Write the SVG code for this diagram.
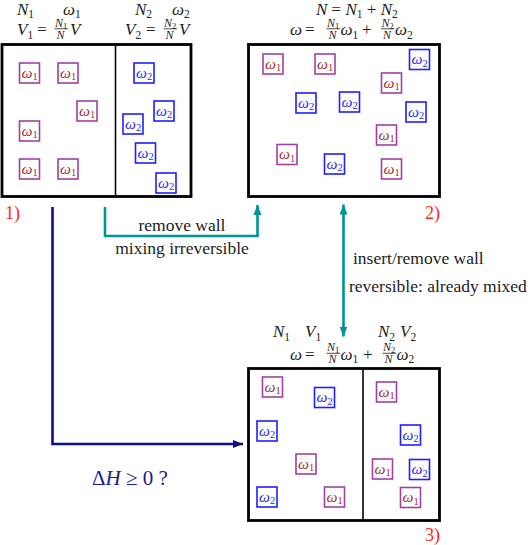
<svg xmlns="http://www.w3.org/2000/svg" width="532" height="545" viewBox="0 0 532 545">
<style>
.m{font-family:"Liberation Serif",serif;fill:#222}
.i{font-style:italic}
.b{font-size:17px}
.s{font-size:12px}
.f{font-size:11.5px}
.fs{font-size:8.5px}
.fl{stroke:#222;stroke-width:0.8}
.box{fill:none;stroke:#000;stroke-width:2.8}
.wall{stroke:#000;stroke-width:1.6}
.p1{fill:#fff;stroke:#a040a0;stroke-width:1.6}
.p2{fill:#fff;stroke:#1f1fff;stroke-width:1.6}
.t1{font-family:"Liberation Serif",serif;font-size:15.5px;fill:#a33030}
.t2{font-family:"Liberation Serif",serif;font-size:15.5px;fill:#2a2af5}
.w{font-style:italic}
.ps{font-size:10.5px}
.red{font-family:"Liberation Serif",serif;font-size:18px;fill:#ff2626}
.lab{font-family:"Liberation Serif",serif;font-size:17.5px;fill:#222}
.teal{fill:none;stroke:#009494;stroke-width:2.6}
.navy{fill:none;stroke:#0c0c8e;stroke-width:2.6}
</style>
<defs>
<marker id="ah" viewBox="0 0 10 8" refX="10" refY="4" markerWidth="10" markerHeight="9" orient="auto-start-reverse" markerUnits="userSpaceOnUse"><path d="M0,0 L10,4 L0,8 z" fill="#009494"/></marker>
<marker id="ahn" viewBox="0 0 10 8" refX="10" refY="4" markerWidth="10" markerHeight="9" orient="auto" markerUnits="userSpaceOnUse"><path d="M0,0 L10,4 L0,8 z" fill="#0c0c8e"/></marker>
</defs>

<g id="connectors">
<path class="teal" d="M105,207 V236 H257.5 V205" marker-end="url(#ah)"/>
<path class="teal" d="M343.5,336.5 V204.5" marker-start="url(#ah)" marker-end="url(#ah)"/>
<path class="navy" d="M52.5,207 V444 H243" marker-end="url(#ahn)"/>
<text class="lab" x="182" y="231" text-anchor="middle">remove wall</text>
<text class="lab" x="182" y="254" text-anchor="middle">mixing irreversible</text>
<text class="lab" x="353" y="264">insert/remove wall</text>
<text class="lab" x="349" y="292">reversible: already mixed</text>
<text x="92" y="485" style="font-family:'Liberation Serif',serif;font-size:21px;fill:#1a1a8e">Δ<tspan font-style="italic">H</tspan> ≥ 0 ?</text>
</g>

<g id="state1">
<rect class="box" x="2" y="44.5" width="189" height="152"/>
<line class="wall" x1="115.5" y1="44.5" x2="115.5" y2="196.5"/>
<text class="m b" x="17" y="14.5"><tspan class="i">N</tspan><tspan class="f" dy="3.5">1</tspan></text>
<text class="m b" x="63" y="14.5"><tspan class="i">ω</tspan><tspan class="f" dy="3.5">1</tspan></text>
<text class="m b" x="135" y="14.5"><tspan class="i">N</tspan><tspan class="f" dy="3.5">2</tspan></text>
<text class="m b" x="172" y="14.5"><tspan class="i">ω</tspan><tspan class="f" dy="3.5">2</tspan></text>
<text class="m b" x="17" y="35"><tspan class="i">V</tspan><tspan class="f" dy="3.5">1</tspan></text>
<text class="m b" x="37" y="35">=</text>
<text class="m s" x="55" y="26.5"><tspan class="i">N</tspan><tspan class="fs" dy="2">1</tspan></text>
<line class="fl" x1="54.5" y1="28.8" x2="68" y2="28.8"/>
<text class="m s i" x="56.5" y="38.5">N</text>
<text class="m b i" x="70" y="35">V</text>
<text class="m b" x="125" y="35"><tspan class="i">V</tspan><tspan class="f" dy="3.5">2</tspan></text>
<text class="m b" x="146" y="35">=</text>
<text class="m s" x="164" y="26.5"><tspan class="i">N</tspan><tspan class="fs" dy="2">2</tspan></text>
<line class="fl" x1="163.5" y1="28.8" x2="177" y2="28.8"/>
<text class="m s i" x="165.5" y="38.5">N</text>
<text class="m b i" x="179" y="35">V</text>
<text class="red" x="5" y="219">1)</text>
<rect class="p1" x="19.5" y="63" width="20" height="20"/><text class="t1" x="21.5" y="77.5"><tspan class="w">ω</tspan><tspan class="ps" dy="2.5">1</tspan></text>
<rect class="p1" x="58" y="63" width="20" height="20"/><text class="t1" x="60" y="77.5"><tspan class="w">ω</tspan><tspan class="ps" dy="2.5">1</tspan></text>
<rect class="p1" x="77" y="101" width="20" height="20"/><text class="t1" x="79" y="115.5"><tspan class="w">ω</tspan><tspan class="ps" dy="2.5">1</tspan></text>
<rect class="p1" x="19.5" y="121" width="20" height="20"/><text class="t1" x="21.5" y="135.5"><tspan class="w">ω</tspan><tspan class="ps" dy="2.5">1</tspan></text>
<rect class="p1" x="19.5" y="159" width="20" height="20"/><text class="t1" x="21.5" y="173.5"><tspan class="w">ω</tspan><tspan class="ps" dy="2.5">1</tspan></text>
<rect class="p1" x="58" y="159" width="20" height="20"/><text class="t1" x="60" y="173.5"><tspan class="w">ω</tspan><tspan class="ps" dy="2.5">1</tspan></text>
<rect class="p2" x="134" y="63" width="20" height="20"/><text class="t2" x="136" y="77.5"><tspan class="w">ω</tspan><tspan class="ps" dy="2.5">2</tspan></text>
<rect class="p2" x="154" y="101" width="20" height="20"/><text class="t2" x="156" y="115.5"><tspan class="w">ω</tspan><tspan class="ps" dy="2.5">2</tspan></text>
<rect class="p2" x="123" y="114" width="20" height="20"/><text class="t2" x="125" y="128.5"><tspan class="w">ω</tspan><tspan class="ps" dy="2.5">2</tspan></text>
<rect class="p2" x="135.5" y="143" width="20" height="20"/><text class="t2" x="137.5" y="157.5"><tspan class="w">ω</tspan><tspan class="ps" dy="2.5">2</tspan></text>
<rect class="p2" x="156" y="173" width="20" height="20"/><text class="t2" x="158" y="187.5"><tspan class="w">ω</tspan><tspan class="ps" dy="2.5">2</tspan></text>
</g>

<g id="state2">
<rect class="box" x="248.5" y="44.5" width="191" height="152"/>
<text class="m b" x="316" y="14.5"><tspan class="i">N</tspan> = <tspan class="i">N</tspan><tspan class="f" dy="3.5">1</tspan><tspan dy="-3.5"> + </tspan><tspan class="i">N</tspan><tspan class="f" dy="3.5">2</tspan></text>
<text class="m b i" x="290" y="35">ω</text>
<text class="m b" x="305" y="35">=</text>
<text class="m s" x="327" y="26.5"><tspan class="i">N</tspan><tspan class="fs" dy="2">1</tspan></text>
<line class="fl" x1="326.5" y1="28.8" x2="340" y2="28.8"/>
<text class="m s i" x="328.5" y="38.5">N</text>
<text class="m b" x="340.5" y="35"><tspan class="i">ω</tspan><tspan class="f" dy="3.5">1</tspan></text>
<text class="m b" x="362" y="35">+</text>
<text class="m s" x="381.5" y="26.5"><tspan class="i">N</tspan><tspan class="fs" dy="2">2</tspan></text>
<line class="fl" x1="381" y1="28.8" x2="394.5" y2="28.8"/>
<text class="m s i" x="383" y="38.5">N</text>
<text class="m b" x="395" y="35"><tspan class="i">ω</tspan><tspan class="f" dy="3.5">2</tspan></text>
<text class="red" x="425" y="219">2)</text>
<rect class="p1" x="263" y="54" width="20" height="20"/><text class="t1" x="265" y="68.5"><tspan class="w">ω</tspan><tspan class="ps" dy="2.5">1</tspan></text>
<rect class="p1" x="315" y="54" width="20" height="20"/><text class="t1" x="317" y="68.5"><tspan class="w">ω</tspan><tspan class="ps" dy="2.5">1</tspan></text>
<rect class="p1" x="381.5" y="73" width="20" height="20"/><text class="t1" x="383.5" y="87.5"><tspan class="w">ω</tspan><tspan class="ps" dy="2.5">1</tspan></text>
<rect class="p1" x="376.5" y="125" width="20" height="20"/><text class="t1" x="378.5" y="139.5"><tspan class="w">ω</tspan><tspan class="ps" dy="2.5">1</tspan></text>
<rect class="p1" x="277" y="144.5" width="20" height="20"/><text class="t1" x="279" y="159"><tspan class="w">ω</tspan><tspan class="ps" dy="2.5">1</tspan></text>
<rect class="p1" x="381.5" y="159" width="20" height="20"/><text class="t1" x="383.5" y="173.5"><tspan class="w">ω</tspan><tspan class="ps" dy="2.5">1</tspan></text>
<rect class="p2" x="409.5" y="49.5" width="20" height="20"/><text class="t2" x="411.5" y="64"><tspan class="w">ω</tspan><tspan class="ps" dy="2.5">2</tspan></text>
<rect class="p2" x="296" y="93" width="20" height="20"/><text class="t2" x="298" y="107.5"><tspan class="w">ω</tspan><tspan class="ps" dy="2.5">2</tspan></text>
<rect class="p2" x="339.5" y="92" width="20" height="20"/><text class="t2" x="341.5" y="106.5"><tspan class="w">ω</tspan><tspan class="ps" dy="2.5">2</tspan></text>
<rect class="p2" x="406" y="102" width="20" height="20"/><text class="t2" x="408" y="116.5"><tspan class="w">ω</tspan><tspan class="ps" dy="2.5">2</tspan></text>
<rect class="p2" x="324.5" y="154" width="20" height="20"/><text class="t2" x="326.5" y="168.5"><tspan class="w">ω</tspan><tspan class="ps" dy="2.5">2</tspan></text>
</g>

<g id="state3">
<rect class="box" x="248.5" y="368.5" width="191" height="152"/>
<line class="wall" x1="363" y1="368.5" x2="363" y2="520.5"/>
<text class="m b" x="273" y="337"><tspan class="i">N</tspan><tspan class="f" dy="3.5">1</tspan></text>
<text class="m b" x="305" y="337"><tspan class="i">V</tspan><tspan class="f" dy="3.5">1</tspan></text>
<text class="m b" x="378" y="337"><tspan class="i">N</tspan><tspan class="f" dy="3.5">2</tspan></text>
<text class="m b" x="400" y="337"><tspan class="i">V</tspan><tspan class="f" dy="3.5">2</tspan></text>
<text class="m b i" x="290" y="359.5">ω</text>
<text class="m b" x="305" y="359.5">=</text>
<text class="m s" x="327" y="351"><tspan class="i">N</tspan><tspan class="fs" dy="2">1</tspan></text>
<line class="fl" x1="326.5" y1="353.3" x2="340" y2="353.3"/>
<text class="m s i" x="328.5" y="363">N</text>
<text class="m b" x="340.5" y="359.5"><tspan class="i">ω</tspan><tspan class="f" dy="3.5">1</tspan></text>
<text class="m b" x="363" y="359.5">+</text>
<text class="m s" x="383" y="351"><tspan class="i">N</tspan><tspan class="fs" dy="2">2</tspan></text>
<line class="fl" x1="382.5" y1="353.3" x2="396" y2="353.3"/>
<text class="m s i" x="384.5" y="363">N</text>
<text class="m b" x="396.5" y="359.5"><tspan class="i">ω</tspan><tspan class="f" dy="3.5">2</tspan></text>
<text class="red" x="425" y="541">3)</text>
<rect class="p1" x="262.5" y="377" width="20" height="20"/><text class="t1" x="264.5" y="391.5"><tspan class="w">ω</tspan><tspan class="ps" dy="2.5">1</tspan></text>
<rect class="p1" x="296" y="454" width="20" height="20"/><text class="t1" x="298" y="468.5"><tspan class="w">ω</tspan><tspan class="ps" dy="2.5">1</tspan></text>
<rect class="p1" x="324.5" y="487" width="20" height="20"/><text class="t1" x="326.5" y="501.5"><tspan class="w">ω</tspan><tspan class="ps" dy="2.5">1</tspan></text>
<rect class="p1" x="376.5" y="382" width="20" height="20"/><text class="t1" x="378.5" y="396.5"><tspan class="w">ω</tspan><tspan class="ps" dy="2.5">1</tspan></text>
<rect class="p1" x="372.5" y="459" width="20" height="20"/><text class="t1" x="374.5" y="473.5"><tspan class="w">ω</tspan><tspan class="ps" dy="2.5">1</tspan></text>
<rect class="p1" x="400.5" y="487.5" width="20" height="20"/><text class="t1" x="402.5" y="502"><tspan class="w">ω</tspan><tspan class="ps" dy="2.5">1</tspan></text>
<rect class="p2" x="314.5" y="387.5" width="20" height="20"/><text class="t2" x="316.5" y="402"><tspan class="w">ω</tspan><tspan class="ps" dy="2.5">2</tspan></text>
<rect class="p2" x="257" y="421" width="20" height="20"/><text class="t2" x="259" y="435.5"><tspan class="w">ω</tspan><tspan class="ps" dy="2.5">2</tspan></text>
<rect class="p2" x="257" y="487" width="20" height="20"/><text class="t2" x="259" y="501.5"><tspan class="w">ω</tspan><tspan class="ps" dy="2.5">2</tspan></text>
<rect class="p2" x="400.5" y="425" width="20" height="20"/><text class="t2" x="402.5" y="439.5"><tspan class="w">ω</tspan><tspan class="ps" dy="2.5">2</tspan></text>
<rect class="p2" x="409.5" y="459.5" width="20" height="20"/><text class="t2" x="411.5" y="474"><tspan class="w">ω</tspan><tspan class="ps" dy="2.5">2</tspan></text>
</g>
</svg>
